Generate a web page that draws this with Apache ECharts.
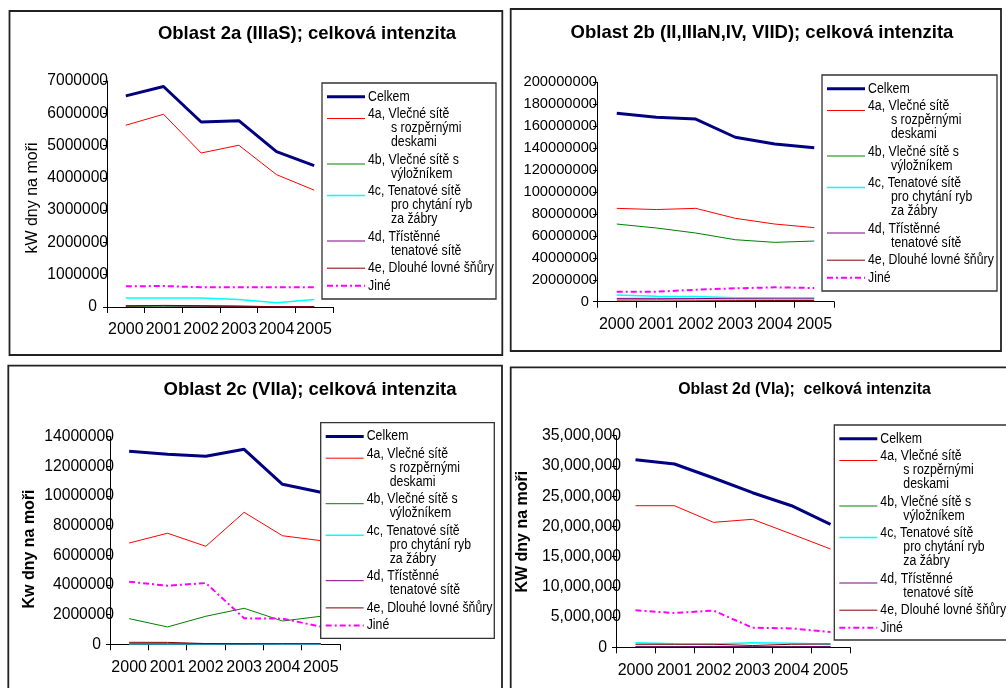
<!DOCTYPE html>
<html><head><meta charset="utf-8">
<script src="https://cdn.jsdelivr.net/npm/echarts@6/dist/echarts.min.js"></script>
<style>html,body{margin:0;padding:0;background:#fff}#c{width:1006px;height:688px}</style>
</head><body><div id="c"></div>
<script>
// ---- data ----
const years = ['2000', '2001', '2002', '2003', '2004', '2005'];

// Oblast 2a
const o2a_celkem = [6540000, 6830000, 5730000, 5770000, 4810000, 4380000];
const o2a_4a = [5630000, 5970000, 4770000, 5010000, 4100000, 3620000];
const o2a_4b = [20000, 25000, 20000, 15000, 10000, 10000];
const o2a_4c = [280000, 280000, 280000, 230000, 130000, 230000];
const o2a_4d = [40000, 40000, 30000, 20000, 10000, 10000];
const o2a_4e = [30000, 50000, 40000, 30000, 10000, 10000];
const o2a_jine = [640000, 650000, 610000, 610000, 610000, 610000];

// Oblast 2b
const o2b_celkem = [171700000, 168100000, 166500000, 149900000, 143800000, 140400000];
const o2b_4a = [85100000, 84000000, 85100000, 76000000, 70800000, 67500000];
const o2b_4b = [70800000, 67200000, 62600000, 56500000, 54100000, 55300000];
const o2b_4c = [6000000, 4900000, 4700000, 3600000, 3500000, 3500000];
const o2b_4d = [3000000, 3100000, 3000000, 2700000, 2600000, 2600000];
const o2b_4e = [1500000, 1600000, 1400000, 1200000, 1100000, 1100000];
const o2b_jine = [9100000, 9100000, 10900000, 12200000, 13100000, 12500000];

// Oblast 2c
const o2c_celkem = [13020000, 12810000, 12680000, 13150000, 10790000, 10250000];
const o2c_4a = [6830000, 7490000, 6610000, 8900000, 7320000, 6990000];
const o2c_4b = [1730000, 1170000, 1890000, 2430000, 1570000, 1890000];
const o2c_4c = [20000, 20000, 15000, 15000, 10000, 10000];
const o2c_4d = [30000, 30000, 30000, 25000, 25000, 25000];
const o2c_4e = [135000, 130000, 50000, 40000, 40000, 40000];
const o2c_jine = [4220000, 3950000, 4130000, 1750000, 1730000, 1190000];

// Oblast 2d
const o2d_celkem = [31030000, 30320000, 28000000, 25570000, 23420000, 20340000];
const o2d_4a = [23420000, 23420000, 20670000, 21170000, 18740000, 16260000];
const o2d_4b = [150000, 120000, 130000, 140000, 130000, 120000];
const o2d_4c = [760000, 600000, 550000, 750000, 650000, 500000];
const o2d_4d = [100000, 100000, 150000, 80000, 90000, 150000];
const o2d_4e = [500000, 500000, 500000, 300000, 500000, 550000];
const o2d_jine = [6120000, 5670000, 6070000, 3240000, 3130000, 2530000];

const seriesNames = ['Celkem', '4a, Vlečné sítě s rozpěrnými deskami', '4b, Vlečné sítě s výložníkem',
  '4c, Tenatové sítě pro chytání ryb za žábry', '4d, Třístěnné tenatové sítě', '4e, Dlouhé lovné šňůry', 'Jiné'];
const legendLabels = [
  ['Celkem'],
  ['4a, Vlečné sítě', 's rozpěrnými', 'deskami'],
  ['4b, Vlečné sítě s', 'výložníkem'],
  ['4c, Tenatové sítě', 'pro chytání ryb', 'za žábry'],
  ['4d, Třístěnné', 'tenatové sítě'],
  ['4e, Dlouhé lovné šňůry'],
  ['Jiné']
];

// ---- styles / layout ----
const FONT = '"Liberation Sans", Arial, Helvetica, sans-serif';
const seriesStyles = [
  {color: '#000080', width: 3},
  {color: '#ff0000', width: 1},
  {color: '#008000', width: 1},
  {color: '#00ffff', width: 1.5},
  {color: '#800080', width: 1},
  {color: '#800000', width: 1},
  {color: '#ff00ff', width: 2, dash: [6, 3, 2, 3]}
];

const panels = [
  {title: 'Oblast 2a (IIIaS); celková intenzita', tx: 307, ty: 34, tsize: 18.5,
   yName: 'kW dny na moři', yBold: 'normal', nx: 33, ny: 198,
   grid: {left: 107, top: 81, width: 226, height: 226}, max: 7000000, interval: 1000000,
   lsize: 15.6, lmargin: -1, zpad: 11, commas: false,
   legend: {x: 322, y: 83, w: 174, h: 216}, frame: {x: 9.5, y: 11, w: 492.8, h: 344},
   data: [o2a_celkem, o2a_4a, o2a_4b, o2a_4c, o2a_4d, o2a_4e, o2a_jine]},
  {title: 'Oblast 2b (II,IIIaN,IV, VIID); celková intenzita', tx: 762, ty: 33, tsize: 18.5,
   yName: null,
   grid: {left: 597, top: 82.3, width: 237, height: 219.4}, max: 200000000, interval: 20000000,
   lsize: 14.7, lmargin: 0, zpad: 8, commas: false,
   legend: {x: 822, y: 75, w: 175, h: 216}, frame: {x: 510.7, y: 9, w: 490.3, h: 342},
   data: [o2b_celkem, o2b_4a, o2b_4b, o2b_4c, o2b_4d, o2b_4e, o2b_jine]},
  {title: 'Oblast 2c (VIIa); celková intenzita', tx: 310, ty: 390, tsize: 18.5,
   yName: 'Kw dny na moři', yBold: 'bold', nx: 30, ny: 549,
   grid: {left: 110, top: 436.7, width: 230, height: 207.6}, max: 14000000, interval: 2000000,
   lsize: 15.7, lmargin: -4, zpad: 13, commas: false,
   legend: {x: 320.7, y: 422.7, w: 173.6, h: 215.6}, frame: {x: 8.3, y: 365.7, w: 493.7, h: 340},
   data: [o2c_celkem, o2c_4a, o2c_4b, o2c_4c, o2c_4d, o2c_4e, o2c_jine]},
  {title: 'Oblast 2d (VIa);  celková intenzita', tx: 804.5, ty: 390, tsize: 15.9,
   yName: 'KW dny na moři', yBold: 'bold', nx: 523, ny: 531.7,
   grid: {left: 616, top: 435.7, width: 234, height: 211.6}, max: 35000000, interval: 5000000,
   lsize: 15.8, lmargin: -5, zpad: 14, commas: true,
   legend: {x: 834.3, y: 425, w: 175, h: 215}, frame: {x: 510.7, y: 367.3, w: 520, h: 340},
   data: [o2d_celkem, o2d_4a, o2d_4b, o2d_4c, o2d_4d, o2d_4e, o2d_jine]}
];

const chart = echarts.init(document.getElementById('c'), null, {renderer: 'canvas'});

const grids = [], xAxes = [], yAxes = [], series = [], graphics = [];

panels.forEach((p, i) => {
  grids.push(Object.assign({containLabel: false}, p.grid));
  xAxes.push({
    type: 'category', gridIndex: i, data: years, boundaryGap: true,
    axisLine: {lineStyle: {color: '#000', width: 1}},
    axisTick: {show: true, length: 6, lineStyle: {color: '#000'}},
    axisLabel: {color: '#000', fontSize: 16, fontFamily: FONT, margin: 15, interval: 0},
    splitLine: {show: false}
  });
  yAxes.push({
    type: 'value', gridIndex: i, min: 0, max: p.max, interval: p.interval,
    axisLine: {show: true, lineStyle: {color: '#000', width: 1}},
    axisTick: {show: true, length: 4, lineStyle: {color: '#000'}},
    axisLabel: {
      color: '#000', fontSize: p.lsize, fontFamily: FONT, margin: p.lmargin,
      formatter: v => v === 0 ? '{z|0}' : (p.commas ? echarts.format.addCommas(v) : String(v)),
      rich: {z: {padding: [0, p.zpad, 0, 0], fontSize: p.lsize, fontFamily: FONT, color: '#000'}}
    },
    splitLine: {show: false}
  });
  p.data.forEach((arr, k) => {
    const st = seriesStyles[k];
    series.push({
      type: 'line', name: seriesNames[k], xAxisIndex: i, yAxisIndex: i, data: arr,
      symbol: 'none', silent: true, z: 2 + k * 0.01,
      lineStyle: {color: st.color, width: st.width, type: st.dash || 'solid'},
      itemStyle: {color: st.color}
    });
  });

  // frame
  graphics.push({type: 'rect', shape: {x: p.frame.x, y: p.frame.y, width: p.frame.w, height: p.frame.h},
    style: {fill: 'none', stroke: '#222', lineWidth: 1.8}, z: 1, silent: true});
  // title
  graphics.push({type: 'text', x: p.tx, y: p.ty, z: 5, silent: true,
    style: {text: p.title, fontSize: p.tsize, fontWeight: 'bold', fontFamily: FONT, fill: '#000',
      align: 'center', verticalAlign: 'middle'}});
  // y axis name
  if (p.yName) {
    graphics.push({type: 'text', x: p.nx, y: p.ny, rotation: Math.PI / 2, z: 5, silent: true,
      style: {text: p.yName, fontSize: 16, fontWeight: p.yBold, fontFamily: FONT, fill: '#000',
        align: 'center', verticalAlign: 'middle'}});
  }
  // legend
  const L = p.legend;
  graphics.push({type: 'rect', shape: {x: L.x, y: L.y, width: L.w, height: L.h},
    style: {fill: '#fff', stroke: '#333', lineWidth: 1.3}, z: 100, silent: true});
  let y = L.y + 13.7;
  legendLabels.forEach((lines, k) => {
    const st = seriesStyles[k];
    const ly = y + (lines.length > 1 ? 4.3 : 0);
    graphics.push({type: 'line', shape: {x1: L.x + 5, y1: ly, x2: L.x + 43, y2: ly}, z: 101, silent: true,
      style: {stroke: st.color, lineWidth: st.width, lineDash: st.dash || null}});
    lines.forEach((t, j) => {
      graphics.push({type: 'text', x: L.x + (j === 0 ? 46 : 69), y: y + j * 14, scaleY: 1.12, z: 101, silent: true,
        style: {text: t, fontSize: 12.3, fontFamily: FONT, fill: '#000', align: 'left', verticalAlign: 'middle'}});
    });
    y += (lines.length - 1) * 14 + 17.5;
  });
});

chart.setOption({
  animation: false,
  backgroundColor: '#fff',
  grid: grids,
  xAxis: xAxes,
  yAxis: yAxes,
  series: series,
  graphic: {elements: graphics}
});
</script>
</body></html>
